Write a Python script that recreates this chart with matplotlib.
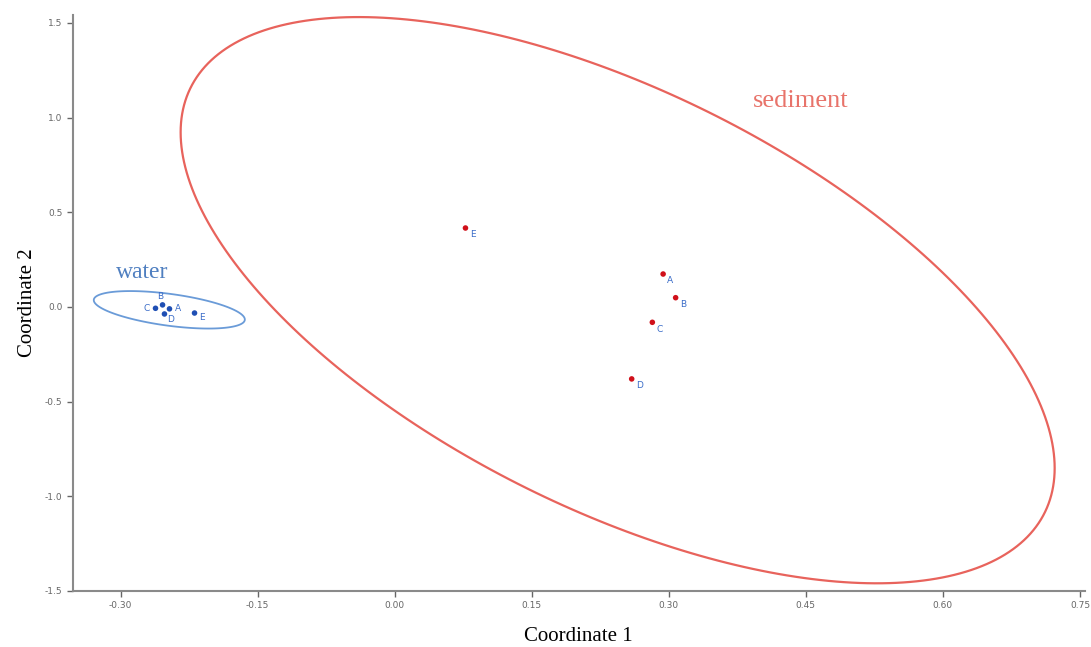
import numpy as np
import matplotlib.pyplot as plt
from matplotlib.patches import Polygon

# sample labels and coordinates (PCoA)
labels = ["A", "B", "C", "D", "E"]
sed_x = [0.2938, 0.3075, 0.2820, 0.2594, 0.0775]
sed_y = [0.174, 0.049, -0.081, -0.380, 0.417]
wat_x = [-0.2464, -0.2540, -0.2617, -0.2519, -0.2190]
wat_y = [-0.010, 0.011, -0.007, -0.037, -0.032]

x_ticks = [-0.30, -0.15, 0.00, 0.15, 0.30, 0.45, 0.60, 0.75]
y_ticks = [-1.5, -1.0, -0.5, 0.0, 0.5, 1.0, 1.5]


def ellipse95(x, y, n_pts=300):
    # 95% concentration ellipse, n=5 -> F(0.95; 2, 3) = 9.5521
    x = np.asarray(x)
    y = np.asarray(y)
    n = len(x)
    cov = np.cov(x, y)
    k2 = 2 * (n - 1) / (n - 2) * 9.5521
    L = np.linalg.cholesky(cov * k2)
    t = np.linspace(0, 2 * np.pi, n_pts, endpoint=False)
    circ = np.vstack([np.cos(t), np.sin(t)])
    pts = L @ circ
    return np.column_stack([pts[0] + x.mean(), pts[1] + y.mean()])


fig = plt.figure(figsize=(10.91, 6.47), dpi=100)
ax = fig.add_axes([0.0669, 0.0866, 0.9272, 0.8902])

# ellipses
ax.add_patch(Polygon(ellipse95(sed_x, sed_y), closed=True, fill=False,
                     edgecolor="#E8635C", lw=1.6))
ax.add_patch(Polygon(ellipse95(wat_x, wat_y), closed=True, fill=False,
                     edgecolor="#6A9BD8", lw=1.3))

# points
ax.scatter(sed_x, sed_y, s=16, color="#D0101A", zorder=3, edgecolors="none")
ax.scatter(wat_x, wat_y, s=16, color="#1F4FB4", zorder=3, edgecolors="none")

for i, lab in enumerate(labels):
    ax.annotate(lab, (sed_x[i], sed_y[i]), xytext=(3, -5), textcoords="offset points",
                fontsize=6.5, color="#3A6CC8", va="center")

# water labels sit around the tight cluster
wat_off = {"A": (4, 0), "B": (-4, 6), "C": (-9, 0), "D": (2, -4), "E": (3, -3)}
for i, lab in enumerate(labels):
    ax.annotate(lab, (wat_x[i], wat_y[i]), xytext=wat_off[lab], textcoords="offset points",
                fontsize=6.5, color="#3A6CC8", va="center")

ax.text(0.444, 1.09, "sediment", fontsize=19, color="#E8736A", family="Liberation Serif",
        ha="center", va="center")
ax.text(-0.2766, 0.18, "water", fontsize=17, color="#4F7FC0", family="Liberation Serif",
        ha="center", va="center")

ax.set_xlim(-0.352, 0.755)
ax.set_ylim(-1.5, 1.542)
ax.set_xticks(x_ticks)
ax.set_xticklabels(["%.2f" % v for v in x_ticks])
ax.set_yticks(y_ticks)
ax.set_yticklabels(["%.1f" % v for v in y_ticks])
ax.tick_params(labelsize=6.5, colors="#666666", length=4, width=1)

for s in ["top", "right"]:
    ax.spines[s].set_visible(False)
for s in ["left", "bottom"]:
    ax.spines[s].set_color("#8a8a8a")
    ax.spines[s].set_linewidth(1.5)

ax.set_xlabel("Coordinate 1", fontsize=15, family="Liberation Serif", labelpad=12)
ax.set_ylabel("Coordinate 2", fontsize=15, family="Liberation Serif", labelpad=6)

fig.savefig("out.png", dpi=100)
